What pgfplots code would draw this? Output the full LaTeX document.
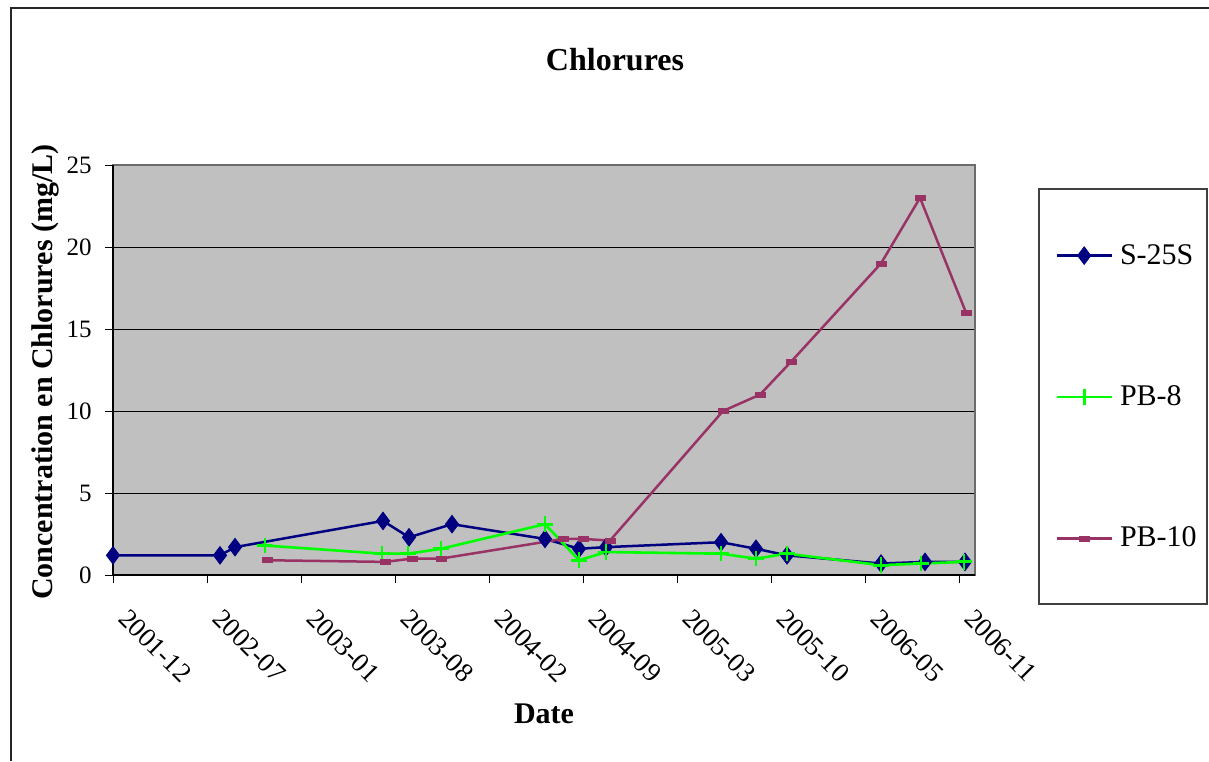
\documentclass[border=0pt]{standalone}
\usepackage{pgfplots}
\pgfplotsset{compat=1.18}
\usepackage{fontspec}
\setmainfont{Liberation Serif}

\definecolor{navyS}{HTML}{000080}
\definecolor{greenP}{HTML}{00FF00}
\definecolor{plumP}{HTML}{993366}
\definecolor{plotbg}{HTML}{C0C0C0}

% x positions are measured in sampling-time units (94 units between labelled dates)
\pgfplotstableread{
x   y
0   1.2
107 1.2
122 1.7
270 3.3
296 2.3
339 3.1
432 2.2
466 1.6
493 1.7
608 2.0
643 1.6
674 1.2
768 0.7
812 0.8
852 0.8
}\seriesS

\pgfplotstableread{
x   y
152 1.8
269 1.3
295 1.3
328 1.6
432 3.1
466 0.9
493 1.4
608 1.3
643 1.0
674 1.3
768 0.6
808 0.7
851 0.8
}\seriesPBviii

\pgfplotstableread{
x   y
154 0.9
272 0.8
299 1.0
328 1.0
450 2.2
470 2.2
497 2.1
610 10.0
647 11.0
678 13.0
768 19.0
807 23.0
853 16.0
}\seriesPBx

\begin{document}
\begin{tikzpicture}
\path[use as bounding box] (0,0) rectangle (604.5pt,-380.5pt);
% chart frame
\draw[line width=0.8pt, black!85] (5.5pt,-380.5pt) -- (5.5pt,-4pt) -- (604.5pt,-4pt);
% legend frame
\draw[black!75, line width=0.6pt, fill=white] (519.5pt,-94.5pt) rectangle (603.5pt,-302pt);
\begin{axis}[
  at={(56.5pt,-287.5pt)}, anchor=south west,
  width=431pt, height=205pt, scale only axis,
  xmin=0, xmax=862, ymin=0, ymax=25,
  xtick={0,94,...,846},
  xticklabels={2001-12,2002-07,2003-01,2003-08,2004-02,2004-09,2005-03,2005-10,2006-05,2006-11},
  ytick={0,5,...,25},
  xtick pos=left, ytick pos=left,
  tick align=outside, major tick length=4pt,
  tick style={black, line width=0.5pt},
  ymajorgrids, grid style={black, line width=0.5pt},
  axis background/.style={fill=plotbg},
  axis line style={draw=gray!85!black, line width=1pt},
  clip=false,
  /pgf/number format/assume math mode=true,
  xticklabel style={font=\fontsize{13.5}{15}\selectfont, inner sep=0pt, xshift=8.5pt, yshift=-12pt, rotate=-45, anchor=north west},
  yticklabel style={font=\fontsize{12.5}{14}\selectfont, anchor=east, inner sep=0pt, xshift=-6.5pt},
  every axis title shift=0pt,
  title={Chlorures},
  title style={at={(axis description cs:0.5824,1.256)}, anchor=center, inner sep=0pt, font=\fontsize{16}{19}\selectfont\bfseries},
  xlabel={Date},
  xlabel style={at={(axis description cs:0.5,-0.339)}, anchor=center, font=\fontsize{15}{18}\selectfont\bfseries},
  ylabel={Concentration en Chlorures (mg/L)},
  ylabel style={at={(axis description cs:-0.0789,0.495)}, anchor=center, font=\fontsize{15}{18}\selectfont\bfseries},
  legend style={at={(axis description cs:1.0928,0.4341)}, anchor=west, draw=none, fill=none,
    inner sep=0pt, font=\fontsize{15}{18}\selectfont, row sep=59.25pt, column sep=3.5pt,
    nodes={inner sep=0pt}},
  legend cell align=left,
  legend image code/.code={\draw[mark repeat=2,mark phase=2] plot coordinates {(0pt,0pt) (13.75pt,0pt) (27.5pt,0pt)};},
]
\draw[black, line width=0.8pt] (rel axis cs:0,1) -- (rel axis cs:0,0) -- (rel axis cs:1,0);
\addplot[color=navyS, line width=1.25pt, mark=diamond*, mark size=4.4pt,
  mark options={fill=navyS, draw=navyS, line width=0.4pt}] table[x=x,y=y] {\seriesS};
\addlegendentry{S-25S}
\addplot[color=greenP, line width=1.3pt, mark=+, mark size=3.9pt,
  mark options={line width=1.4pt}] table[x=x,y=y] {\seriesPBviii};
\addlegendentry{PB-8}
\addplot[color=plumP, line width=1.25pt, mark=square*, mark size=2.5pt,
  mark options={yscale=0.5, fill=plumP, draw=plumP, line width=0.3pt}] table[x=x,y=y] {\seriesPBx};
\addlegendentry{PB-10}
\end{axis}
\end{tikzpicture}
\end{document}
